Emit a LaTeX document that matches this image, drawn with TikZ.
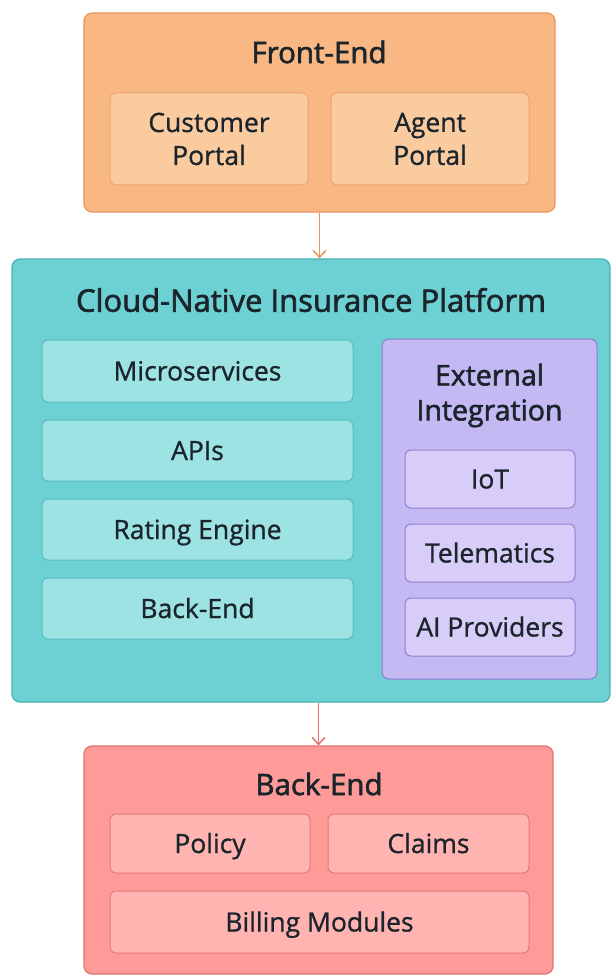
\documentclass[tikz,border=0pt]{standalone}
\usepackage{fontspec}
\setmainfont{Open Sans}[FakeBold=0.9]
\newfontfamily\titlefont{Open Sans}[FakeBold=2.0]
\usetikzlibrary{arrows.meta}
\definecolor{feFill}{HTML}{F9B883}
\definecolor{feDraw}{HTML}{E8955A}
\definecolor{feIn}{HTML}{FBCBA0}
\definecolor{feInDraw}{HTML}{E6A673}
\definecolor{plFill}{HTML}{6DD0D3}
\definecolor{plDraw}{HTML}{47B0B3}
\definecolor{plIn}{HTML}{9EE3E4}
\definecolor{plInDraw}{HTML}{58BDBF}
\definecolor{exFill}{HTML}{C5B9F4}
\definecolor{exDraw}{HTML}{8A7CD2}
\definecolor{exIn}{HTML}{D7CDF8}
\definecolor{exInDraw}{HTML}{8F82CF}
\definecolor{beFill}{HTML}{FE9B98}
\definecolor{beDraw}{HTML}{E46F6C}
\definecolor{beIn}{HTML}{FFB4B1}
\definecolor{beInDraw}{HTML}{E07B78}
\definecolor{txt}{HTML}{1A242A}
\tikzset{
  outer/.style={draw, line width=1.2pt, rounded corners=8pt, inner sep=0pt},
  inbox/.style={draw, line width=1pt, rounded corners=6pt, inner sep=0pt, text=txt, font=\fontsize{26.5}{33}\selectfont, align=center},
  oneline/.style={align=none, text height=24pt, text depth=5pt},
  ttl/.style={text=txt, font=\titlefont\fontsize{29.5}{35}\selectfont, align=center},
  conn/.style={line width=1.5pt, -{Straight Barb[length=7pt,width=13pt]}}
}
\begin{document}
\begin{tikzpicture}[x=1pt,y=-1pt]
\useasboundingbox (0,0) rectangle (612,976);
\fill[white] (0,0) rectangle (612,976);
% Front-End
\node[outer, fill=feFill, draw=feDraw, minimum width=471pt, minimum height=199pt] (fe) at (319.5,112.5) {};
\node[ttl] (fet) at (319,52) {Front-End};
\node[inbox, fill=feIn, draw=feInDraw, minimum width=198pt, minimum height=92pt] (cp) at (209,139) {Customer\\Portal};
\node[inbox, fill=feIn, draw=feInDraw, minimum width=198pt, minimum height=92pt] (ap) at (430,139) {Agent\\Portal};
% Platform
\node[outer, fill=plFill, draw=plDraw, minimum width=598pt, minimum height=443pt] (pl) at (311,480.5) {};
\node[ttl, font=\titlefont\fontsize{31}{35}\selectfont] (plt) at (311,300) {Cloud-Native Insurance Platform};
\node[inbox, oneline, fill=plIn, draw=plInDraw, minimum width=311pt, minimum height=62pt] (ms) at (197.5,371) {Microservices};
\node[inbox, oneline, fill=plIn, draw=plInDraw, minimum width=311pt, minimum height=61pt] (api) at (197.5,450.5) {APIs};
\node[inbox, oneline, fill=plIn, draw=plInDraw, minimum width=311pt, minimum height=61pt] (re) at (197.5,529.5) {Rating Engine};
\node[inbox, oneline, fill=plIn, draw=plInDraw, minimum width=311pt, minimum height=61pt] (pbe) at (197.5,608.5) {Back-End};
% External integration
\node[outer, fill=exFill, draw=exDraw, line width=1pt, rounded corners=7pt, minimum width=215pt, minimum height=340pt] (ex) at (489.5,509) {};
\node[ttl, font=\titlefont\fontsize{28.5}{35}\selectfont] (ext) at (489.5,395.5) {External\\Integration};
\node[inbox, oneline, fill=exIn, draw=exInDraw, minimum width=170pt, minimum height=58pt] (iot) at (490,479) {IoT};
\node[inbox, oneline, fill=exIn, draw=exInDraw, minimum width=170pt, minimum height=58pt] (tel) at (490,553) {Telematics};
\node[inbox, oneline, fill=exIn, draw=exInDraw, minimum width=170pt, minimum height=58pt] (aip) at (490,627) {AI Providers};
% Back-End
\node[outer, fill=beFill, draw=beDraw, minimum width=469pt, minimum height=228pt] (be) at (318.5,860) {};
\node[ttl] (bet) at (319,784) {Back-End};
\node[inbox, oneline, fill=beIn, draw=beInDraw, minimum width=200pt, minimum height=59pt] (pol) at (210,843.5) {Policy};
\node[inbox, oneline, fill=beIn, draw=beInDraw, minimum width=201pt, minimum height=59pt] (clm) at (428.5,843.5) {Claims};
\node[inbox, oneline, fill=beIn, draw=beInDraw, minimum width=419pt, minimum height=62pt] (bil) at (319.5,922) {Billing Modules};
% Connectors
\draw[conn, draw=feDraw] (fe.south) -- (fe.south |- pl.north);
\draw[conn, draw=beDraw] (pl.south -| be.north) -- (be.north);
\end{tikzpicture}
\end{document}
